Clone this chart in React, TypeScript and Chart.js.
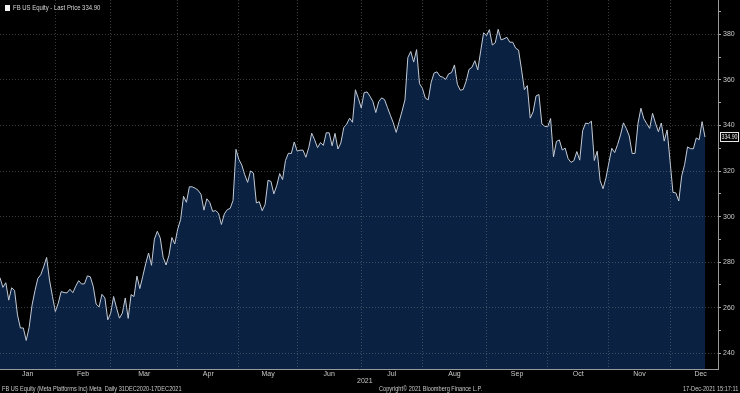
import React, { useEffect, useRef } from "react";
import { Chart, registerables } from "chart.js";

Chart.register(...registerables);

// ---- Data (daily closes) ----
const PRICES_DEC_2020 = [273.16];
const PRICES_JAN = [268.94, 270.97, 263.31, 268.74, 267.57, 256.84, 251.09, 251.11, 245.64, 251.36, 261.1, 267.48, 272.87, 274.5, 278.01, 282.05, 272.14, 265.0, 258.33];
const PRICES_FEB = [262.01, 267.08, 266.65, 266.49, 268.1, 266.58, 269.45, 271.87, 270.39, 270.5, 273.97, 273.57, 269.39, 261.56, 260.33, 265.86, 264.31, 254.69, 257.62];
const PRICES_MAR = [264.91, 259.91, 255.41, 257.64, 264.28, 255.31, 265.74, 264.9, 273.88, 268.4, 273.75, 279.28, 284.01, 278.62, 290.11, 293.54, 290.63, 282.14, 278.74, 283.02, 290.82, 288.0, 294.53];
const PRICES_APR = [298.66, 308.91, 306.26, 313.09, 313.02, 312.46, 311.54, 309.76, 302.82, 307.82, 306.18, 302.24, 302.65, 301.47, 296.52, 301.13, 303.04, 303.57, 307.1, 329.51, 325.08];
const PRICES_MAY = [322.58, 318.36, 315.02, 320.02, 319.08, 305.97, 306.53, 302.55, 305.26, 315.94, 315.46, 309.96, 313.59, 318.86, 316.23, 324.63, 327.79, 327.66, 332.75, 328.73];
const PRICES_JUN = [329.13, 329.15, 326.04, 330.35, 336.58, 333.68, 330.25, 332.46, 331.26, 336.77, 336.75, 331.08, 336.51, 329.66, 332.29, 339.03, 340.59, 343.18, 341.37, 355.64, 351.89, 347.71];
const PRICES_JUL = [354.39, 354.7, 352.78, 350.49, 345.65, 350.42, 352.09, 351.34, 347.88, 344.46, 341.16, 336.95, 341.66, 346.23, 351.19, 369.79, 372.46, 367.81, 373.28, 358.32, 356.3];
const PRICES_AUG = [351.95, 351.24, 358.92, 362.97, 363.51, 361.61, 361.15, 360.22, 362.65, 363.18, 366.56, 358.04, 355.45, 355.77, 359.37, 364.59, 365.51, 368.39, 364.38, 372.63, 380.66, 379.38];
const PRICES_SEP = [382.05, 375.28, 376.26, 382.18, 377.57, 378.0, 378.69, 376.51, 376.53, 373.92, 373.06, 364.72, 355.7, 357.48, 343.21, 345.96, 352.96, 353.58, 340.65, 339.61, 339.39];
const PRICES_OCT = [343.01, 326.23, 332.96, 333.64, 329.22, 330.05, 325.45, 323.77, 324.54, 328.53, 324.76, 337.69, 341.01, 340.78, 341.88, 324.61, 328.69, 315.81, 312.22, 316.92, 323.57];
const PRICES_NOV = [329.98, 328.08, 331.62, 335.85, 341.13, 338.62, 335.37, 327.64, 327.74, 340.89, 347.56, 342.96, 340.77, 338.69, 345.3, 341.01, 337.25, 341.06, 333.12, 338.03, 324.46];
const PRICES_DEC = [310.6, 310.39, 306.84, 317.87, 322.81, 330.56, 329.82, 329.75, 334.49, 333.74, 341.66, 334.9];

const MONTH_LABELS = ["Jan", "Feb", "Mar", "Apr", "May", "Jun", "Jul", "Aug", "Sep", "Oct", "Nov", "Dec"];
const START_DATE = "2020-12-31";
const END_DATE = "2021-12-16";
const HOLIDAYS = ["2021-01-01", "2021-01-18", "2021-02-15", "2021-04-02", "2021-05-31", "2021-07-05", "2021-09-06", "2021-11-25"];

const Y_MIN = 233.1;
const Y_MAX = 395.05;
const Y_TICKS = [240, 250, 260, 270, 280, 290, 300, 310, 320, 330, 340, 350, 360, 370, 380, 390];
const Y_LABEL_STEP = 20;

const YEAR_LABEL = "2021";
const LAST_PRICE = 334.9;
const LEGEND_TEXT = "FB US Equity - Last Price 334.90";
const FOOTER_LEFT = "FB US Equity (Meta Platforms Inc) Meta  Daily 31DEC2020-17DEC2021";
const FOOTER_MID = "Copyright\u00A9 2021 Bloomberg Finance L.P.";
const FOOTER_RIGHT = "17-Dec-2021 15:17:11";

const FONT = "'Liberation Sans', Arial, sans-serif";
const TEXT_COLOR = "#c9c9c9";

function tradingDates(): Date[] {
  const out: Date[] = [];
  const hol = new Set(HOLIDAYS);
  const d = new Date(START_DATE + "T00:00:00Z");
  const end = new Date(END_DATE + "T00:00:00Z");
  while (d <= end) {
    const wd = d.getUTCDay();
    const key = d.toISOString().slice(0, 10);
    if (wd !== 0 && wd !== 6 && !hol.has(key)) out.push(new Date(d));
    d.setUTCDate(d.getUTCDate() + 1);
  }
  return out;
}

export default function App() {
  const ref = useRef<HTMLCanvasElement | null>(null);

  useEffect(() => {
    const prices = [
      ...PRICES_DEC_2020, ...PRICES_JAN, ...PRICES_FEB, ...PRICES_MAR, ...PRICES_APR, ...PRICES_MAY,
      ...PRICES_JUN, ...PRICES_JUL, ...PRICES_AUG, ...PRICES_SEP, ...PRICES_OCT, ...PRICES_NOV, ...PRICES_DEC,
    ];
    const dates = tradingDates();
    const n = Math.min(prices.length, dates.length);
    const points = [];
    for (let i = 0; i < n; i++) points.push({ x: i, y: prices[i] });

    // month boundaries: last trading day of previous month
    const boundaries: number[] = [];
    for (let i = 1; i < n; i++) {
      if (dates[i].getUTCMonth() !== dates[i - 1].getUTCMonth()) boundaries.push(i - 1);
    }
    const labelPos = new Map<number, string>();
    boundaries.forEach((b, k) => {
      const end = k + 1 < boundaries.length ? boundaries[k + 1] : b + 21;
      labelPos.set((b + end) / 2, MONTH_LABELS[dates[b + 1].getUTCMonth()]);
    });
    const gridSet = new Set(boundaries.filter((b) => b > 0));
    const xMax = (n - 1) * 718 / 705;

    const gridColor = "rgba(125,132,145,0.45)";

    const priceTag = {
      id: "priceTag",
      afterDraw(chart: any) {
        const { ctx, chartArea, scales } = chart;
        const y = Math.round(scales.y.getPixelForValue(LAST_PRICE));
        const x0 = chartArea.right + 2;
        const w = 740 - x0 - 1;
        ctx.save();
        ctx.fillStyle = "#000";
        ctx.fillRect(x0, y - 5, w, 10);
        ctx.strokeStyle = "#e6e6e6";
        ctx.lineWidth = 1;
        ctx.strokeRect(x0 + 0.5, y - 4.5, w - 1, 9);
        ctx.fillStyle = "#e6e6e6";
        ctx.font = `7px ${FONT}`;
        ctx.textBaseline = "middle";
        ctx.textAlign = "center";
        ctx.fillText(LAST_PRICE.toFixed(2), x0 + w / 2, y + 0.5, w - 3);
        ctx.restore();
      },
    };

    const chart = new Chart(ref.current as HTMLCanvasElement, {
      type: "line",
      data: {
        datasets: [
          {
            data: points,
            borderColor: "#c3cbd6",
            borderWidth: 1,
            backgroundColor: "#0b2142",
            fill: "start",
            pointRadius: 0,
            tension: 0,
          },
        ],
      },
      options: {
        responsive: false,
        animation: false,
        events: [],
        layout: { padding: 0 },
        plugins: { legend: { display: false }, tooltip: { enabled: false }, title: { display: false } },
        scales: {
          x: {
            type: "linear",
            min: 0,
            max: xMax,
            afterBuildTicks: (scale: any) => {
              const vals = [...boundaries, ...Array.from(labelPos.keys())].sort((a, b) => a - b);
              scale.ticks = vals.map((v) => ({ value: v }));
            },
            afterFit: (scale: any) => {
              scale.height = 393 - 369;
              scale.paddingLeft = 0;
              scale.paddingRight = 0;
            },
            ticks: {
              autoSkip: false,
              maxRotation: 0,
              minRotation: 0,
              padding: 1,
              color: TEXT_COLOR,
              font: { family: FONT, size: 7 },
              callback: (v: any) => labelPos.get(Number(v)) ?? "",
            },
            grid: {
              z: 1,
              drawTicks: false,
              color: (ctx: any) => (ctx.tick && gridSet.has(ctx.tick.value) ? gridColor : "rgba(0,0,0,0)"),
            },
            border: { display: true, color: "#9a9a9a", width: 1, dash: [1, 2], z: 2 },
          },
          y: {
            type: "linear",
            position: "right",
            min: Y_MIN,
            max: Y_MAX,
            afterBuildTicks: (scale: any) => {
              scale.ticks = Y_TICKS.map((v) => ({ value: v }));
            },
            afterFit: (scale: any) => {
              scale.width = 22;
              scale.paddingTop = 0;
              scale.paddingBottom = 0;
            },
            ticks: {
              padding: 2,
              color: TEXT_COLOR,
              font: { family: FONT, size: 7 },
              callback: (v: any) => (Number(v) % Y_LABEL_STEP === 0 ? String(v) : ""),
            },
            grid: {
              z: 1,
              drawTicks: true,
              tickLength: 3,
              tickColor: "#a8a8a8",
              color: (ctx: any) => (ctx.tick && ctx.tick.value % Y_LABEL_STEP === 0 ? gridColor : "rgba(0,0,0,0)"),
            },
            border: { display: true, color: "#9a9a9a", width: 1, dash: [1, 2], z: 2 },
          },
        },
      },
      plugins: [priceTag],
    } as any);
    return () => chart.destroy();
  }, []);

  const txt: React.CSSProperties = {
    position: "absolute",
    fontFamily: FONT,
    fontSize: 7,
    lineHeight: "8px",
    color: TEXT_COLOR,
    whiteSpace: "pre",
    transform: "scaleX(0.8)",
    transformOrigin: "left top",
  };

  return (
    <div style={{ position: "fixed", left: 0, top: 0, width: 740, height: 393, background: "#000", overflow: "hidden" }}>
      <canvas ref={ref} width={740} height={393} style={{ position: "absolute", left: 0, top: 0, width: 740, height: 393 }} />
      <div style={{ position: "absolute", left: 5, top: 5, width: 5, height: 6, background: "#f2f2f2" }} />
      <div style={{ ...txt, left: 13, top: 4, color: "#d8d8d8", transform: "scaleX(0.85)" }}>{LEGEND_TEXT}</div>
      <div style={{ ...txt, left: 357, top: 377, transform: "none" }}>{YEAR_LABEL}</div>
      <div style={{ ...txt, left: 2, top: 385 }}>{FOOTER_LEFT}</div>
      <div style={{ ...txt, left: 379, top: 385 }}>{FOOTER_MID}</div>
      <div style={{ ...txt, left: 683, top: 385 }}>{FOOTER_RIGHT}</div>
    </div>
  );
}
